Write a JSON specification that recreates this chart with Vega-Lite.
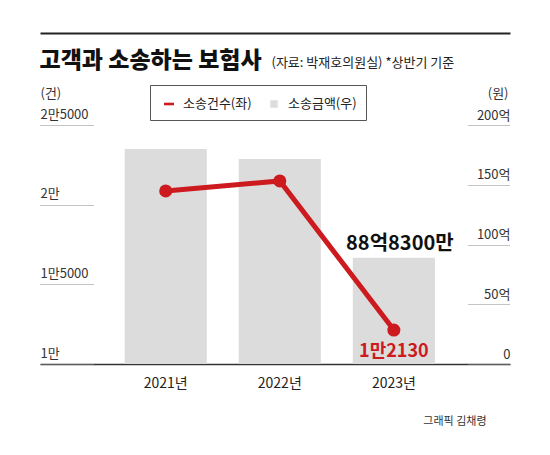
{
  "$schema": "https://vega.github.io/schema/vega-lite/v6.json",
  "autosize": "none",
  "width": 470,
  "height": 239,
  "padding": {"left": 40, "top": 125, "right": 40, "bottom": 91},
  "background": "white",
  "title": {
    "text": "고객과 소송하는 보험사",
    "anchor": "start",
    "fontSize": 23,
    "fontWeight": 900,
    "color": "#111",
    "dy": 44
  },
  "data": {
    "values": [
      {"year": "2021년", "amount": 180, "count": 20860, "amountLabel": null, "countLabel": null},
      {"year": "2022년", "amount": 171.5, "count": 21490, "amountLabel": null, "countLabel": null},
      {"year": "2023년", "amount": 88.83, "count": 12130, "amountLabel": "88억8300만", "countLabel": "1만2130"}
    ]
  },
  "encoding": {
    "x": {
      "field": "year",
      "type": "nominal",
      "scale": {"paddingInner": 0.28, "paddingOuter": 0.7, "align": 0.53}
    }
  },
  "layer": [
    {
      "layer": [
        {
          "mark": {"type": "bar", "color": "#dcdcdc"},
          "encoding": {
            "x": {
              "field": "year",
              "type": "nominal",
              "axis": {
                "orient": "bottom",
                "labelAngle": 0,
                "labelFontSize": 14,
                "labelColor": "#222",
                "labelPadding": 12,
                "ticks": false,
                "domainColor": "#333",
                "domainWidth": 1.5,
                "title": "그래픽 김채령",
                "titleX": 446,
                "titleY": 57,
                "titleAlign": "right",
                "titleBaseline": "middle",
                "titleFontSize": 11,
                "titleFontWeight": "normal",
                "titleColor": "#333"
              }
            },
            "y": {
              "field": "amount",
              "type": "quantitative",
              "scale": {"domain": [0, 200], "nice": false},
              "axis": {
                "orient": "right",
                "offset": -42,
                "values": [0, 50, 100, 150, 200],
                "tickSize": 42,
                "tickDash": [1, 1],
                "tickColor": "#888",
                "domain": false,
                "grid": false,
                "labelAlign": "right",
                "labelPadding": 0,
                "labelBaseline": "bottom",
                "labelOffset": -3,
                "labelFontSize": 13,
                "labelColor": "#333",
                "labelExpr": "datum.value == 0 ? '0' : datum.value + '억'",
                "title": "(원)",
                "titleAngle": 0,
                "titleX": 40,
                "titleY": -32,
                "titleAlign": "right",
                "titleBaseline": "middle",
                "titleFontSize": 13,
                "titleFontWeight": "normal",
                "titleColor": "#333"
              }
            },
            "color": {
              "datum": "소송금액(우)",
              "scale": {"domain": ["소송건수(좌)", "소송금액(우)"], "range": ["#cc1a1f", "#dcdcdc"]},
              "legend": {
                "orient": "none",
                "legendX": 110,
                "legendY": -40,
                "direction": "horizontal",
                "title": null,
                "strokeColor": "#555",
                "padding": 9,
                "labelFontSize": 13,
                "labelColor": "#222",
                "columnPadding": 12,
                "encode": {
                  "symbols": {
                    "update": {
                      "shape": {"signal": "datum.value == '소송건수(좌)' ? 'M-0.5,-0.13H0.5V0.13H-0.5Z' : 'M-0.375,-0.375H0.375V0.375H-0.375Z'"},
                      "size": {"value": 400},
                      "strokeWidth": {"value": 0}
                    }
                  }
                }
              }
            }
          }
        },
        {
          "transform": [{"filter": "datum.amountLabel != null"}],
          "mark": {"type": "text", "fontSize": 20, "fontWeight": "bold", "color": "#111", "baseline": "bottom", "dy": -4, "dx": 6},
          "encoding": {
            "y": {"field": "amount", "type": "quantitative"},
            "text": {"field": "amountLabel"}
          }
        }
      ]
    },
    {
      "layer": [
        {
          "mark": {"type": "line", "color": "#cc1a1f", "strokeWidth": 5, "point": {"filled": true, "size": 170, "color": "#cc1a1f"}},
          "encoding": {
            "x": {
              "field": "year",
              "type": "nominal",
              "axis": {
                "orient": "top",
                "offset": 92,
                "labels": false,
                "ticks": false,
                "domainColor": "#222",
                "domainWidth": 2,
                "title": "(자료: 박재호의원실) *상반기 기준",
                "titleX": 231,
                "titleY": 33,
                "titleAlign": "left",
                "titleBaseline": "alphabetic",
                "titleFontSize": 13,
                "titleFontWeight": "normal",
                "titleColor": "#222"
              }
            },
            "y": {
              "field": "count",
              "type": "quantitative",
              "scale": {"domain": [10000, 25000], "nice": false, "zero": false},
              "axis": {
                "orient": "left",
                "offset": -53,
                "values": [10000, 15000, 20000, 25000],
                "tickSize": 53,
                "tickDash": [1, 1],
                "tickColor": "#888",
                "domain": false,
                "grid": false,
                "labelAlign": "left",
                "labelPadding": 0,
                "labelBaseline": "bottom",
                "labelOffset": -4,
                "labelFontSize": 13,
                "labelColor": "#333",
                "labelExpr": "datum.value % 10000 == 0 ? (datum.value / 10000) + '만' : floor(datum.value / 10000) + '만' + (datum.value % 10000)",
                "title": "(건)",
                "titleAngle": 0,
                "titleX": -53,
                "titleY": -32,
                "titleAlign": "left",
                "titleBaseline": "middle",
                "titleFontSize": 13,
                "titleFontWeight": "normal",
                "titleColor": "#333"
              }
            }
          }
        },
        {
          "transform": [{"filter": "datum.countLabel != null"}],
          "mark": {"type": "text", "fontSize": 18, "fontWeight": "bold", "color": "#cc1a1f", "baseline": "middle", "dy": 22},
          "encoding": {
            "y": {"field": "count", "type": "quantitative"},
            "text": {"field": "countLabel"}
          }
        }
      ]
    }
  ],
  "resolve": {"scale": {"y": "independent"}, "axis": {"y": "independent", "x": "independent"}},
  "config": {
    "font": "Noto Sans CJK KR",
    "view": {"stroke": null}
  }
}
